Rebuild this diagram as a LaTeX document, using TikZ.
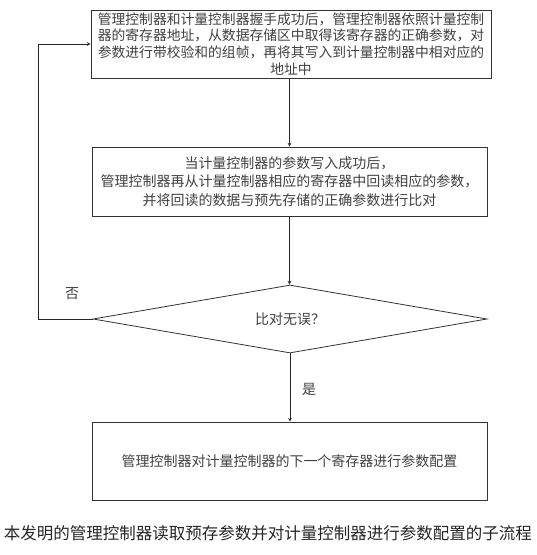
\documentclass[tikz,border=0pt]{standalone}
\usepackage{fontspec}
\setmainfont{Noto Sans CJK SC}
\usetikzlibrary{shapes.geometric,positioning,calc}

\begin{document}
\begin{tikzpicture}[x=1pt,y=-1pt,
		box/.style={draw=black!80, line width=0.8pt, align=center, inner sep=0pt,
			text=black!75, font=\fontsize{14}{18.5}\selectfont},
		lbl/.style={text=black!75, font=\fontsize{14}{16}\selectfont, inner sep=0pt},
		flow/.style={->, >=stealth, draw=black!85, line width=0.7pt}]
		
		\useasboundingbox (0,0) rectangle (537,555);
		
		\def\w{395} % box width
		
		\node[box, minimum width=400pt, minimum height=68pt, font=\fontsize{13.8}{16.6}\selectfont] (write) at (291,44)
		{管理控制器和计量控制器握手成功后，管理控制器依照计量控制\\
			器的寄存器地址，从数据存储区中取得该寄存器的正确参数，对\\
			参数进行带校验和的组帧，再将其写入到计量控制器中相对应的\\
			地址中};
		
		\node[box, minimum width=\w pt, minimum height=69pt] (read) at (289.5,181.5)
		{当计量控制器的参数写入成功后，\\
			管理控制器再从计量控制器相应的寄存器中回读相应的参数，\\
			并将回读的数据与预先存储的正确参数进行比对};
		
		\node[box, diamond, aspect=5.8, minimum width=394pt, minimum height=68pt] (check) at (290,319)
		{比对无误？};
		
		\node[box, minimum width=\w pt, minimum height=78pt] (next) at (289.5,461)
		{管理控制器对计量控制器的下一个寄存器进行参数配置};
		
		\coordinate (back) at (38,319);
		
		\draw[flow] (read.north |- write.south) -- (read.north);
		\draw[flow] (read.south) -- (read.south |- check.north);
		\draw[flow] (check.south) -- (check.south |- next.north);
		\draw[flow] (check.west) -- (back) |- (write.west);
		
		\node[lbl] (no) at (72,294) {否};
		\node[lbl] (yes) at (309,389) {是};
		
		\node[lbl, font=\fontsize{16.5}{18}\selectfont, text=black!85] (caption) at (268,533)
		{本发明的管理控制器读取预存参数并对计量控制器进行参数配置的子流程};
	\end{tikzpicture}
\end{document}
